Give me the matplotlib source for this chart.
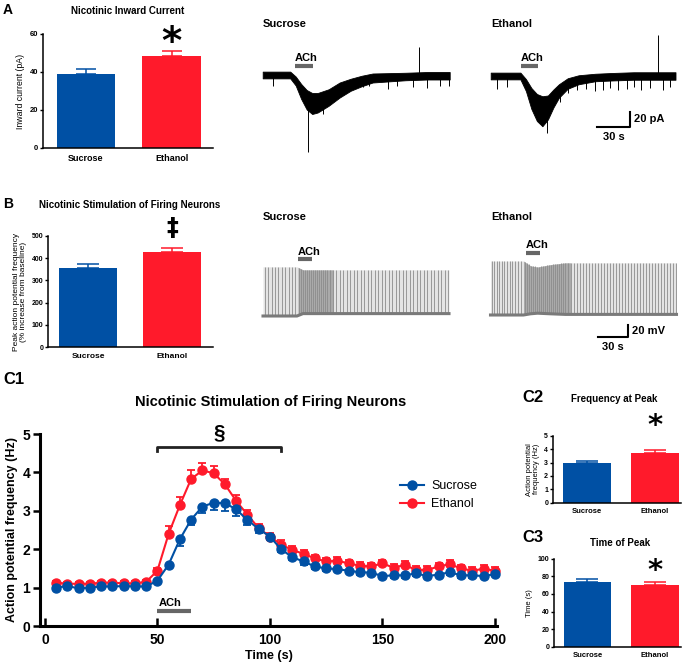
import numpy as np
import matplotlib.pyplot as plt

plt.rcParams['font.family'] = ['Liberation Sans', 'DejaVu Sans']

W, H = 687, 667
fig = plt.figure(figsize=(W / 100, H / 100), dpi=100)

blue = '#0050a4'
red = '#ff1a2b'
gray = '#666666'

groups = ['Sucrose', 'Ethanol']

# A: nicotinic inward current (pA)
current_mean = [39.0, 48.5]
current_sem = [2.5, 2.6]
# B: peak AP frequency (% increase from baseline)
firing_mean = [355, 428]
firing_sem = [18, 18]
# C2: AP frequency at peak (Hz)
peakfreq_mean = [2.95, 3.70]
peakfreq_sem = [0.18, 0.20]
# C3: time of peak (s)
peaktime_mean = [74.0, 70.5]
peaktime_sem = [3.0, 3.0]

# C1: time course (Hz)
time_s = [5, 10, 15, 20, 25, 30, 35, 40, 45, 50, 55, 60, 65, 70, 75, 80, 85, 90, 95, 100,
          105, 110, 115, 120, 125, 130, 135, 140, 145, 150, 155, 160, 165, 170, 175, 180, 185, 190, 195, 200]
sucrose_hz = [1.00, 1.04, 0.98, 1.00, 1.03, 1.03, 1.04, 1.03, 1.03, 1.18, 1.60, 2.26, 2.77, 3.11, 3.21, 3.20, 3.04, 2.76, 2.53, 2.33,
              2.00, 1.79, 1.68, 1.55, 1.50, 1.48, 1.44, 1.40, 1.39, 1.30, 1.32, 1.32, 1.37, 1.30, 1.34, 1.40, 1.32, 1.32, 1.30, 1.35]
sucrose_sem = [0.04, 0.04, 0.04, 0.04, 0.04, 0.04, 0.04, 0.04, 0.04, 0.06, 0.10, 0.18, 0.15, 0.17, 0.20, 0.20, 0.17, 0.13, 0.10, 0.10,
               0.08, 0.08, 0.08, 0.07, 0.06, 0.06, 0.06, 0.06, 0.06, 0.06, 0.06, 0.06, 0.06, 0.06, 0.06, 0.06, 0.06, 0.06, 0.06, 0.06]
ethanol_hz = [1.13, 1.10, 1.10, 1.10, 1.13, 1.13, 1.11, 1.11, 1.15, 1.44, 2.40, 3.15, 3.83, 4.05, 3.98, 3.69, 3.26, 2.90, 2.55, 2.33,
              2.12, 1.98, 1.88, 1.76, 1.68, 1.70, 1.63, 1.57, 1.55, 1.63, 1.52, 1.59, 1.46, 1.46, 1.55, 1.61, 1.50, 1.44, 1.49, 1.44]
ethanol_sem = [0.05, 0.05, 0.05, 0.05, 0.05, 0.05, 0.05, 0.05, 0.05, 0.08, 0.20, 0.22, 0.23, 0.20, 0.18, 0.15, 0.15, 0.13, 0.10, 0.08,
               0.12, 0.10, 0.10, 0.10, 0.10, 0.10, 0.10, 0.10, 0.10, 0.10, 0.10, 0.10, 0.10, 0.10, 0.10, 0.10, 0.10, 0.10, 0.10, 0.10]

# A traces: voltage clamp current envelope (s, pA)
vc_suc_t = [0, 25, 30, 35, 40, 45, 50, 60, 70, 80, 90, 100, 115, 130, 150, 170]
vc_suc_mid = [0, 0, -8, -22, -33, -38, -37, -30, -20, -13, -8, -4, -3, -2, -1, -1]
vc_suc_half = [4.5, 4.5, 6, 10, 13, 14, 13, 11, 10, 8, 7, 6, 5.5, 5, 5, 5]
vc_suc_blip_t = [9.6, 41, 55, 91, 97, 114, 122, 137, 142, 149, 161, 169]
vc_suc_blip_pa = [-14, -103, -52, -16, -15, -18, -14, -16, 37, -17, -15, -14]

vc_eth_t = [0, 27, 32, 37, 42, 47, 52, 57, 62, 70, 80, 95, 110, 130, 150, 168]
vc_eth_mid = [0, 0, -12, -30, -42, -47, -42, -30, -20, -10, -5, -2, -1, 0, 0, 0]
vc_eth_half = [4.5, 4.5, 8, 14, 18, 20, 16, 12, 9, 7, 6, 5, 5, 5, 5, 5]
vc_eth_blip_t = [5.5, 14.5, 51, 63, 70, 78, 87, 95, 102, 108, 116, 124, 130, 137, 145, 152, 157, 163]
vc_eth_blip_pa = [-17, -15, -76, -35, -22, -19, -17, -20, -18, -16, -19, -17, -15, -19, -16, 55, -18, -15]

# B traces: current clamp spike trains (s, mV)
cc_suc_t = [0, 34, 40, 186]
cc_suc_peak = [22, 22, 17, 17]
cc_suc_rest = [-60, -60, -56, -56]
cc_suc_spikes = [2, 5, 9, 12, 15, 19, 22, 26, 29, 32, 36, 38, 40, 42, 44, 46, 48, 50, 52, 54, 56, 58, 60, 62,
                 64, 67, 70, 73, 77, 80, 84, 87, 91, 94, 98, 101, 105, 108, 112, 115, 119, 122, 126, 129,
                 133, 136, 140, 143, 147, 150, 154, 157, 161, 164, 168, 171, 175, 178, 182, 185]
cc_suc_dense = [35, 70]

cc_eth_t = [0, 33, 40, 47, 60, 75, 186]
cc_eth_peak = [30, 30, 22, 20, 24, 27, 27]
cc_eth_rest = [-60, -60, -58, -57, -58, -59, -59]
cc_eth_spikes = [1, 3, 6, 8, 11, 13, 16, 19, 21, 24, 27, 30, 34, 36, 38, 40, 42, 44, 46, 48, 50, 52, 54,
                 56, 58, 60, 62, 64, 66, 68, 70, 72, 74, 77, 80, 83, 86, 89, 92, 95, 98, 101, 104, 107,
                 110, 113, 116, 119, 122, 125, 128, 131, 134, 137, 140, 143, 146, 149, 152, 155, 158,
                 161, 164, 167, 170, 173, 176, 179, 182, 185]
cc_eth_dense = [33, 80]


def px_axes(left, top, right, bottom):
    return fig.add_axes([left / W, 1 - bottom / H, (right - left) / W, (bottom - top) / H])


def trace_axes(x0, y0, xs, ys, left, top, right, bottom):
    # x0, y0: pixel position of data origin; xs, ys: pixels per unit
    ax = px_axes(left, top, right, bottom)
    ax.set_xlim((left - x0) / xs, (right - x0) / xs)
    ax.set_ylim((y0 - bottom) / ys, (y0 - top) / ys)
    ax.axis('off')
    return ax


def ftext(x, y, s, **kw):
    fig.text(x / W, 1 - y / H, s, **kw)


def bar_panel(ax, means, sems, ymax, yticks, tick_fs, xlab_fs, width):
    x = np.arange(2)
    cores = [blue, red]
    ax.bar(x, means, width=width, color=cores, zorder=2)
    for xi, m, e, c in zip(x, means, sems, cores):
        ax.errorbar(xi, m, yerr=[[0], [e]], color=c, capsize=width * 14 * 2.2 / 1.39 / 2, elinewidth=1.1,
                    capthick=1.1, zorder=1)
    ax.set_ylim(0, ymax)
    ax.set_yticks(yticks)
    ax.set_xticks(x)
    ax.set_xticklabels(groups, fontsize=xlab_fs, fontweight='bold')
    ax.tick_params(axis='x', length=0, pad=4)
    ax.tick_params(axis='y', length=2.5, width=1, labelsize=tick_fs, pad=1)
    for lab in ax.get_yticklabels():
        lab.set_fontweight('bold')
    ax.spines[['top', 'right']].set_visible(False)
    ax.spines[['left', 'bottom']].set_linewidth(1.1)


# ---------------- A: bar chart ----------------
axA = px_axes(43, 34, 213, 148)
bar_panel(axA, current_mean, current_sem, 60, [0, 20, 40, 60], 5.5, 6.5, 0.68)
axA.set_xlim(-0.503, 1.485)
axA.set_ylabel('Inward current (pA)', fontsize=6.3, labelpad=3)
axA.text(1, 49.3, '*', ha='center', va='baseline', fontsize=28, fontweight='bold', family='DejaVu Sans',
         clip_on=False)
ftext(128, 11, 'Nicotinic Inward Current', ha='center', va='center', fontsize=7, fontweight='bold')
ftext(3, 10, 'A', ha='left', va='center', fontsize=10, fontweight='bold')

# ---------------- A: voltage clamp traces ----------------
axAs = trace_axes(262.7, 75, 1.1, 0.75, 255, 15, 460, 170)
axAs.fill_between(vc_suc_t, np.array(vc_suc_mid) - vc_suc_half, np.array(vc_suc_mid) + vc_suc_half,
                  color='k', lw=0.6)
axAs.vlines(vc_suc_blip_t, np.interp(vc_suc_blip_t, vc_suc_t, vc_suc_mid), vc_suc_blip_pa, color='k', lw=0.7)
axAs.plot([29, 46], [12, 12], color=gray, lw=3, solid_capstyle='butt')
axAs.text(29, 16, 'ACh', ha='left', va='bottom', fontsize=8, fontweight='bold')
ftext(263, 24, 'Sucrose', ha='left', va='center', fontsize=8, fontweight='bold')

axAe = trace_axes(490.7, 76, 1.1, 0.75, 484, 15, 687, 170)
axAe.fill_between(vc_eth_t, np.array(vc_eth_mid) - vc_eth_half, np.array(vc_eth_mid) + vc_eth_half,
                  color='k', lw=0.6)
axAe.vlines(vc_eth_blip_t, np.interp(vc_eth_blip_t, vc_eth_t, vc_eth_mid), vc_eth_blip_pa, color='k', lw=0.7)
axAe.plot([27.5, 43], [13, 13], color=gray, lw=3, solid_capstyle='butt')
axAe.text(27.5, 17, 'ACh', ha='left', va='bottom', fontsize=8, fontweight='bold')
ftext(491, 24, 'Ethanol', ha='left', va='center', fontsize=8, fontweight='bold')
# scale bar 30 s / 20 pA
axAe.plot([96.6, 126.6, 126.6], [-68, -68, -48], color='k', lw=1.5, clip_on=False)
axAe.text(130, -58, '20 pA', ha='left', va='center', fontsize=8, fontweight='bold')
axAe.text(111.6, -82, '30 s', ha='center', va='center', fontsize=8, fontweight='bold')

# ---------------- B: bar chart ----------------
axB = px_axes(48, 235.7, 213, 347.3)
bar_panel(axB, firing_mean, firing_sem, 500, [0, 100, 200, 300, 400, 500], 5, 6, 0.69)
axB.set_xlim(-0.476, 1.488)
axB.set_ylabel('Peak action potential frequency\n(% increase from baseline)', fontsize=6, labelpad=3,
               linespacing=1.0)
axB.text(1, 503, '\u2021', ha='center', va='baseline', fontsize=17, fontweight='bold', family='DejaVu Sans',
         clip_on=False)
ftext(130, 205, 'Nicotinic Stimulation of Firing Neurons', ha='center', va='center', fontsize=7, fontweight='bold')
ftext(3, 204, 'B', ha='left', va='center', fontsize=10, fontweight='bold')

# ---------------- B: current clamp traces ----------------
def spike_train(ax, t, peak, rest, spikes, dense):
    ax.fill_between(t, rest, peak, color='#e4e4e4', lw=0)
    ax.vlines(spikes, np.interp(spikes, t, rest), np.interp(spikes, t, peak), color='#8c8c8c', lw=0.6)
    tt = np.linspace(dense[0], dense[1], 30)
    ax.fill_between(tt, np.interp(tt, t, rest), np.interp(tt, t, peak), color='#404040', alpha=0.35, lw=0)
    ax.plot(t, rest, color='#7a7a7a', lw=2.2)


axBs = trace_axes(263, 280, 1.0, 0.6, 255, 230, 460, 345)
spike_train(axBs, cc_suc_t, cc_suc_peak, cc_suc_rest, cc_suc_spikes, cc_suc_dense)
axBs.plot([35, 49], [35, 35], color=gray, lw=3, solid_capstyle='butt')
axBs.text(35, 39, 'ACh', ha='left', va='bottom', fontsize=8, fontweight='bold')
ftext(263, 217, 'Sucrose', ha='left', va='center', fontsize=8, fontweight='bold')

axBe = trace_axes(490.5, 279, 1.0, 0.6, 484, 230, 687, 345)
spike_train(axBe, cc_eth_t, cc_eth_peak, cc_eth_rest, cc_eth_spikes, cc_eth_dense)
axBe.plot([35.5, 49.5], [43.8, 43.8], color=gray, lw=3, solid_capstyle='butt')
axBe.text(35.5, 48, 'ACh', ha='left', va='bottom', fontsize=8, fontweight='bold')
ftext(491, 217, 'Ethanol', ha='left', va='center', fontsize=8, fontweight='bold')
# scale bar 30 s / 20 mV
axBe.plot([107.5, 137.5, 137.5], [-96, -96, -76], color='k', lw=1.5, clip_on=False)
axBe.text(141.5, -86, '20 mV', ha='left', va='center', fontsize=8, fontweight='bold')
axBe.text(122.5, -113, '30 s', ha='center', va='center', fontsize=8, fontweight='bold')

# ---------------- C1: time course ----------------
axC = px_axes(40, 434, 497, 626)
zeros = [0] * len(time_s)
eb_e = axC.errorbar(time_s, ethanol_hz, yerr=[zeros, ethanol_sem], color=red, marker='o', ms=6.5, lw=1.5,
                    capsize=3.2, capthick=1.3, elinewidth=1.3, label='Ethanol', clip_on=False)
eb_s = axC.errorbar(time_s, sucrose_hz, yerr=[sucrose_sem, zeros], color=blue, marker='o', ms=6.5, lw=1.5,
                    capsize=3.2, capthick=1.3, elinewidth=1.3, label='Sucrose', clip_on=False)
axC.set_xlim(-2.2, 201)
axC.set_ylim(0, 5)
axC.set_xticks([0, 50, 100, 150, 200])
axC.set_yticks([0, 1, 2, 3, 4, 5])
axC.tick_params(axis='x', direction='in', length=6, width=1.8, labelsize=10, pad=5)
axC.tick_params(axis='y', direction='out', length=5, width=1.8, labelsize=10, pad=2)
for lab in axC.get_xticklabels() + axC.get_yticklabels():
    lab.set_fontweight('bold')
axC.spines[['top', 'right']].set_visible(False)
axC.spines[['left', 'bottom']].set_linewidth(2.2)
axC.set_xlabel('Time (s)', fontsize=9, fontweight='bold', labelpad=2)
axC.set_ylabel('Action potential frequency (Hz)', fontsize=9, fontweight='bold', labelpad=3)
axC.legend(handles=[eb_s[0], eb_e[0]], labels=['Sucrose', 'Ethanol'], loc='upper left',
           bbox_to_anchor=(389 / W, 1 - 469 / H), bbox_transform=fig.transFigure, frameon=False,
           fontsize=9, handlelength=1.9, handletextpad=0.6, labelspacing=0.45)
# significance bracket and ACh application
axC.plot([50, 50, 105, 105], [4.55, 4.66, 4.66, 4.55], color='#222222', lw=2, clip_on=False)
axC.text(77.5, 4.78, '\u00a7', ha='center', va='bottom', fontsize=15, fontweight='bold')
axC.plot([50, 65], [0.4, 0.4], color=gray, lw=3, solid_capstyle='butt')
axC.text(50.5, 0.47, 'ACh', ha='left', va='bottom', fontsize=8, fontweight='bold')
ftext(271, 402, 'Nicotinic Stimulation of Firing Neurons', ha='center', va='center', fontsize=10.5,
      fontweight='bold')
ftext(3, 379, 'C1', ha='left', va='center', fontsize=12, fontweight='bold')

# ---------------- C2 ----------------
axC2 = px_axes(553, 435.7, 681, 502.7)
bar_panel(axC2, peakfreq_mean, peakfreq_sem, 5, [0, 1, 2, 3, 4, 5], 5, 5.5, 0.70)
axC2.set_xlim(-0.496, 1.385)
axC2.set_ylabel('Action potential\nfrequency (Hz)', fontsize=5.5, labelpad=3, linespacing=1.0)
axC2.text(1, 5.1, '*', ha='center', va='baseline', fontsize=21, fontweight='bold', family='DejaVu Sans',
          clip_on=False)
ftext(614, 399, 'Frequency at Peak', ha='center', va='center', fontsize=7, fontweight='bold')
ftext(522, 397, 'C2', ha='left', va='center', fontsize=12, fontweight='bold')

# ---------------- C3 ----------------
axC3 = px_axes(554, 558.7, 681, 646.7)
bar_panel(axC3, peaktime_mean, peaktime_sem, 100, [0, 20, 40, 60, 80, 100], 5, 5.5, 0.70)
axC3.set_xlim(-0.496, 1.385)
axC3.set_ylabel('Time (s)', fontsize=5.5, labelpad=3)
axC3.text(1, 76.5, '*', ha='center', va='baseline', fontsize=21, fontweight='bold', family='DejaVu Sans',
          clip_on=False)
ftext(620, 543, 'Time of Peak', ha='center', va='center', fontsize=7, fontweight='bold')
ftext(522, 538, 'C3', ha='left', va='center', fontsize=12, fontweight='bold')

fig.savefig('out.png', dpi=100)
